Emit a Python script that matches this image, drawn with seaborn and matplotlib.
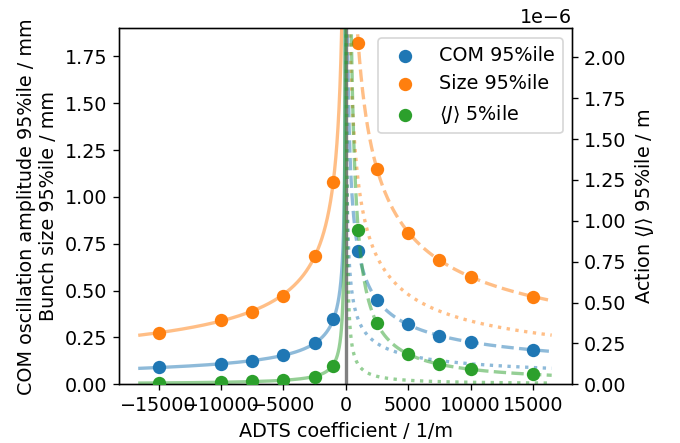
import numpy as np
import pandas as pd
import matplotlib
matplotlib.use("Agg")
import matplotlib.pyplot as plt
from matplotlib.ticker import MultipleLocator
import seaborn as sns

# ADTS scan: simulated 95th / 5th percentile quantities
adts = [-15000, -10000, -7500, -5000, -2500, -1000, 1000, 2500, 5000, 7500, 10000, 15000]
com_95 = [0.092, 0.108, 0.123, 0.156, 0.219, 0.347, 0.712, 0.450, 0.320, 0.260, 0.226, 0.183]   # mm
size_95 = [0.276, 0.343, 0.386, 0.473, 0.687, 1.082, 1.822, 1.148, 0.810, 0.664, 0.575, 0.468]  # mm
action_5 = [0.007e-6, 0.013e-6, 0.018e-6, 0.029e-6, 0.046e-6, 0.114e-6,
            0.944e-6, 0.373e-6, 0.185e-6, 0.122e-6, 0.092e-6, 0.061e-6]                       # m

labels = ["COM 95%ile", "Size 95%ile", r"$\langle J\rangle$ 5%ile"]
colors = ["tab:blue", "tab:orange", "tab:green"]

x_extent = 16500
grid = np.geomspace(2, x_extent, 1500)

df = pd.DataFrame({"adts": adts, "com": com_95, "size": size_95, "action": action_5})


def power_fit(x, y):
    """Least-squares power law y = a * |x|**p in log-log space."""
    p, ln_a = np.polyfit(np.log(np.abs(x)), np.log(y), 1)
    return lambda xx: np.exp(ln_a) * np.abs(xx) ** p


def draw_fits(ax, col, color):
    neg = df[df.adts < 0]
    pos = df[df.adts > 0]
    f_neg = power_fit(neg.adts.values, neg[col].values)
    f_pos = power_fit(pos.adts.values, pos[col].values)
    kw = dict(color=color, alpha=0.5, lw=2, estimator=None, legend=False, ax=ax)
    sns.lineplot(x=-grid, y=f_neg(grid), linestyle="-", **kw)
    sns.lineplot(x=grid, y=f_pos(grid), linestyle="--", **kw)
    sns.lineplot(x=grid, y=f_neg(grid), linestyle=":", **kw)


plt.rcParams["font.size"] = 11.5
fig = plt.figure(figsize=(680 / 120, 443 / 120), dpi=120)
ax = fig.add_axes([0.1754, 0.1325, 0.6662, 0.8035])
ax2 = ax.twinx()

draw_fits(ax, "size", colors[1])
draw_fits(ax, "com", colors[0])
ax.axvline(0, color="grey", lw=2)
sns.scatterplot(data=df, x="adts", y="com", color=colors[0], s=64, linewidth=0,
                label=labels[0], ax=ax, zorder=3)
sns.scatterplot(data=df, x="adts", y="size", color=colors[1], s=64, linewidth=0,
                label=labels[1], ax=ax, zorder=3)

draw_fits(ax2, "action", colors[2])
sns.scatterplot(data=df, x="adts", y="action", color=colors[2], s=64, linewidth=0,
                label=labels[2], ax=ax2, zorder=3)

ax.set_xlim(-18150, 18150)
ax.xaxis.set_major_locator(MultipleLocator(5000))
ax.set_ylim(0, 1.90)
ax2.set_ylim(0, 2.177e-6)

ax.set_xlabel("ADTS coefficient / 1/m")
ax.set_ylabel("COM oscillation amplitude 95%ile / mm\nBunch size 95%ile / mm")
ax2.set_ylabel(r"Action $\langle J\rangle$ 95%ile / m")

for a in (ax, ax2):
    if a.get_legend() is not None:
        a.get_legend().remove()

h1, l1 = ax.get_legend_handles_labels()
h2, l2 = ax2.get_legend_handles_labels()
ax2.legend(h1 + h2, l1 + l2, loc="upper right")

fig.savefig("out.png", dpi=120)
